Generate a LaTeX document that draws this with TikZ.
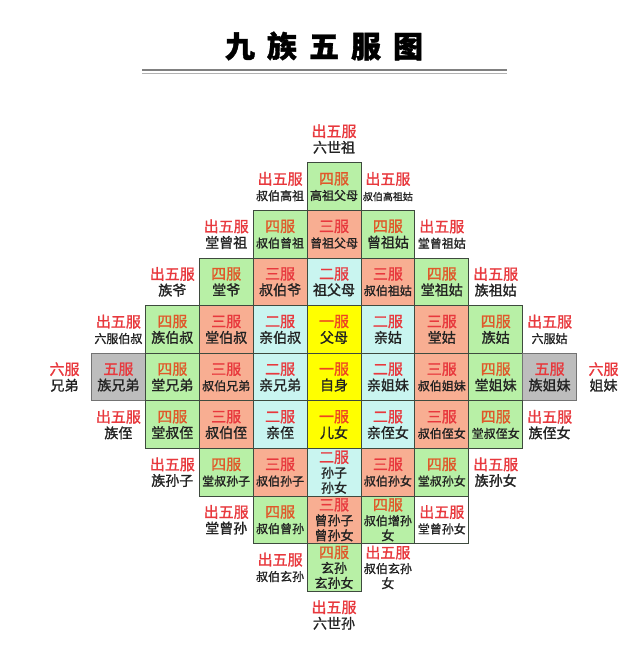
\documentclass[tikz,border=0pt]{standalone}
\usepackage{fontspec}
\setmainfont{Noto Sans CJK SC}[FakeBold=1.2]
\definecolor{cA}{HTML}{FFFF00}
\definecolor{cB}{HTML}{C9F5F0}
\definecolor{cC}{HTML}{F8AE92}
\definecolor{cD}{HTML}{B8F0A6}
\definecolor{cE}{HTML}{BDBDBD}
\definecolor{redt}{HTML}{E8383D}
\definecolor{orgt}{HTML}{E0582A}
\definecolor{yelt}{HTML}{EE4422}
\definecolor{namet}{HTML}{222222}
\definecolor{cellline}{HTML}{3E4A3E}
\newcommand\szA{\fontsize{14}{15.8}\selectfont}
\newcommand\szB{\fontsize{12}{15.8}\selectfont}
\newcommand\szC{\fontsize{10}{15.8}\selectfont}
\newcommand\szD{\fontsize{13}{15}\selectfont}
\newcommand\szE{\fontsize{12}{15}\selectfont}
\newcommand\szL{\fontsize{15}{15.8}\selectfont}
\newcommand\lab[2]{{\color{#1}\szL #2}}
\newcommand\cell[6]{\node[#1] (#2) at ({334+53.9*(#3)},{377+47.6*(#4)}) {#5\\#6};}
\tikzset{
  box/.style={draw=cellline, line width=0.9pt, minimum width=53.9pt, minimum height=47.6pt,
    inner sep=0pt, align=center, font=\szA, text=namet},
  gA/.style={box, fill=cA},
  gB/.style={box, fill=cB},
  gC/.style={box, fill=cC},
  gD/.style={box, fill=cD},
  gE/.style={box, fill=cE, draw=black!55},
  free/.style={inner sep=0pt, align=center, font=\szA, text=namet},
  freebox/.style={box, fill=white},
  tight/.style={font=\szD},
  rule/.style={line width=1.3pt}
}
\begin{document}
\begin{tikzpicture}[x=1pt,y=-1pt]
\useasboundingbox[fill=white] (0,0) rectangle (640,655);
% title
\node[inner sep=0pt, font=\fontsize{30}{32}\selectfont\bfseries] (title) at (324,46)
  {九\hspace{12pt}族\hspace{12pt}五\hspace{12pt}服\hspace{12pt}图};
\coordinate (la) at (142,70);
\coordinate (lb) at (507,70);
\coordinate (lc) at (142,73.6);
\coordinate (ld) at (507,73.6);
\draw[rule, draw=black!50] (la) -- (lb);
\draw[rule, draw=black!30] (lc) -- (ld);
% row -5
\cell{free}{rmfc0}{0}{-5}{\lab{redt}{出五服}}{六世祖}
% row -4
\cell{free}{rmdcm1}{-1}{-4}{\lab{redt}{出五服}}{\szB 叔伯高祖}
\cell{gD}{rmdc0}{0}{-4}{\lab{orgt}{四服}}{\szB 高祖父母}
\cell{free}{rmdc1}{1}{-4}{\lab{redt}{出五服}}{\szC 叔伯高祖姑}
% row -3
\cell{free}{rmccm2}{-2}{-3}{\lab{redt}{出五服}}{堂曾祖}
\cell{gD}{rmccm1}{-1}{-3}{\lab{orgt}{四服}}{\szB 叔伯曾祖}
\cell{gC}{rmcc0}{0}{-3}{\lab{redt}{三服}}{\szB 曾祖父母}
\cell{gD}{rmcc1}{1}{-3}{\lab{orgt}{四服}}{曾祖姑}
\cell{free}{rmcc2}{2}{-3}{\lab{redt}{出五服}}{\szB 堂曾祖姑}
% row -2
\cell{free}{rmbcm3}{-3}{-2}{\lab{redt}{出五服}}{族爷}
\cell{gD}{rmbcm2}{-2}{-2}{\lab{orgt}{四服}}{堂爷}
\cell{gC}{rmbcm1}{-1}{-2}{\lab{redt}{三服}}{叔伯爷}
\cell{gB}{rmbc0}{0}{-2}{\lab{redt}{二服}}{祖父母}
\cell{gC}{rmbc1}{1}{-2}{\lab{redt}{三服}}{\szB 叔伯祖姑}
\cell{gD}{rmbc2}{2}{-2}{\lab{orgt}{四服}}{堂祖姑}
\cell{free}{rmbc3}{3}{-2}{\lab{redt}{出五服}}{族祖姑}
% row -1
\cell{free}{rmacm4}{-4}{-1}{\lab{redt}{出五服}}{\szB 六服伯叔}
\cell{gD}{rmacm3}{-3}{-1}{\lab{orgt}{四服}}{族伯叔}
\cell{gC}{rmacm2}{-2}{-1}{\lab{redt}{三服}}{堂伯叔}
\cell{gB}{rmacm1}{-1}{-1}{\lab{redt}{二服}}{亲伯叔}
\cell{gA}{rmac0}{0}{-1}{\lab{yelt}{一服}}{父母}
\cell{gB}{rmac1}{1}{-1}{\lab{redt}{二服}}{亲姑}
\cell{gC}{rmac2}{2}{-1}{\lab{redt}{三服}}{堂姑}
\cell{gD}{rmac3}{3}{-1}{\lab{orgt}{四服}}{族姑}
\cell{free}{rmac4}{4}{-1}{\lab{redt}{出五服}}{\szB 六服姑}
% row 0
\cell{free}{rzcm5}{-5}{0}{\lab{redt}{六服}}{兄弟}
\cell{gE}{rzcm4}{-4}{0}{\lab{redt}{五服}}{族兄弟}
\cell{gD}{rzcm3}{-3}{0}{\lab{orgt}{四服}}{堂兄弟}
\cell{gC}{rzcm2}{-2}{0}{\lab{redt}{三服}}{\szB 叔伯兄弟}
\cell{gB}{rzcm1}{-1}{0}{\lab{redt}{二服}}{亲兄弟}
\cell{gA}{rzc0}{0}{0}{\lab{yelt}{一服}}{自身}
\cell{gB}{rzc1}{1}{0}{\lab{redt}{二服}}{亲姐妹}
\cell{gC}{rzc2}{2}{0}{\lab{redt}{三服}}{\szB 叔伯姐妹}
\cell{gD}{rzc3}{3}{0}{\lab{orgt}{四服}}{堂姐妹}
\cell{gE}{rzc4}{4}{0}{\lab{redt}{五服}}{族姐妹}
\cell{free}{rzc5}{5}{0}{\lab{redt}{六服}}{姐妹}
% row 1
\cell{free}{racm4}{-4}{1}{\lab{redt}{出五服}}{族侄}
\cell{gD}{racm3}{-3}{1}{\lab{orgt}{四服}}{堂叔侄}
\cell{gC}{racm2}{-2}{1}{\lab{redt}{三服}}{叔伯侄}
\cell{gB}{racm1}{-1}{1}{\lab{redt}{二服}}{亲侄}
\cell{gA}{rac0}{0}{1}{\lab{yelt}{一服}}{儿女}
\cell{gB}{rac1}{1}{1}{\lab{redt}{二服}}{亲侄女}
\cell{gC}{rac2}{2}{1}{\lab{redt}{三服}}{\szB 叔伯侄女}
\cell{gD}{rac3}{3}{1}{\lab{orgt}{四服}}{\szB 堂叔侄女}
\cell{free}{rac4}{4}{1}{\lab{redt}{出五服}}{族侄女}
% row 2
\cell{free}{rbcm3}{-3}{2}{\lab{redt}{出五服}}{族孙子}
\cell{gD}{rbcm2}{-2}{2}{\lab{orgt}{四服}}{\szB 堂叔孙子}
\cell{gC}{rbcm1}{-1}{2}{\lab{redt}{三服}}{\szB 叔伯孙子}
\cell{gB,tight}{rbc0}{0}{2}{\lab{redt}{二服}}{孙子\\孙女}
\cell{gC}{rbc1}{1}{2}{\lab{redt}{三服}}{\szB 叔伯孙女}
\cell{gD}{rbc2}{2}{2}{\lab{orgt}{四服}}{\szB 堂叔孙女}
\cell{free}{rbc3}{3}{2}{\lab{redt}{出五服}}{族孙女}
% row 3
\cell{free}{rccm2}{-2}{3}{\lab{redt}{出五服}}{堂曾孙}
\cell{gD}{rccm1}{-1}{3}{\lab{orgt}{四服}}{\szB 叔伯曾孙}
\cell{gC,tight}{rcc0}{0}{3}{\lab{redt}{三服}}{曾孙子\\曾孙女}
\cell{gD,tight}{rcc1}{1}{3}{\lab{orgt}{四服}}{{\szE 叔伯增孙}\\女}
\cell{freebox}{rcc2}{2}{3}{\lab{redt}{出五服}}{\szB 堂曾孙女}
% row 4
\cell{free}{rdcm1}{-1}{4}{\lab{redt}{出五服}}{\szB 叔伯玄孙}
\cell{gD,tight}{rdc0}{0}{4}{\lab{orgt}{四服}}{玄孙\\玄孙女}
\cell{free,tight}{rdc1}{1}{4}{\lab{redt}{出五服}}{{\szE 叔伯玄孙}\\女}
% row 5
\cell{free}{rec0}{0}{5}{\lab{redt}{出五服}}{六世孙}
\end{tikzpicture}
\end{document}
